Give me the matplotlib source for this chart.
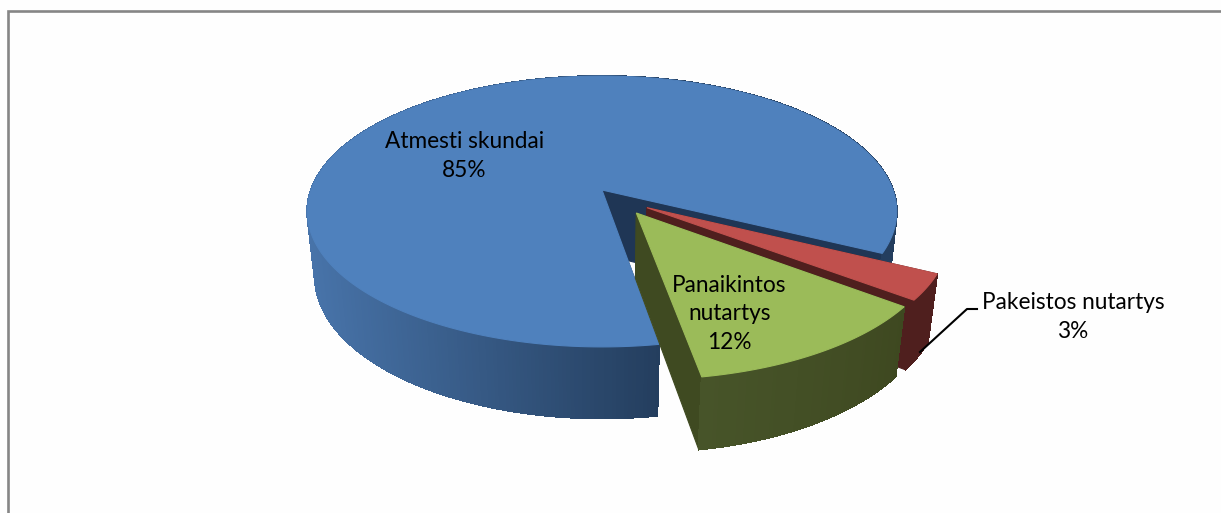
import numpy as np
import matplotlib
matplotlib.use("Agg")
import matplotlib.pyplot as plt
from matplotlib.colors import to_rgb

# ---- data ----
categories = ["Atmesti skundai", "Panaikintos\nnutartys", "Pakeistos nutartys"]
values = [85, 12, 3]
percent_labels = ["85%", "12%", "3%"]

# ---- drawing order round the pie, starting from the front and turning right ----
START_DEG = 9.5
order = [1, 2, 0]                 # green, red, blue
explode = {0: 0.0, 1: 0.205, 2: 0.2}
explode_dir_shift = {0: 0.0, 1: 3.0, 2: -9.0}

top_col = {0: "#4f81bd", 1: "#9bbb59", 2: "#c0504d"}
cut_col = {0: "#1f3655", 1: "#3f4a21", 2: "#4f1f1e"}
side_from = {0: "#4874aa", 1: "#475429", 2: "#4f1f1e"}
side_to = {0: "#243e5e", 1: "#3e4820", 2: "#4f1f1e"}

# ---- projection of the tilted disc onto the page ----
CX, CY = 602.0, 190.0
RX, SY = 291.0, 132.0
K = 0.1587
DEPTH, M = 66.0, 0.026


def project(u, v, z=0.0):
    w = 1 + K * v + M * z
    return CX + RX * u / w, CY + (-SY * v + DEPTH * z) / w


plt.rcParams["font.family"] = ["Lato", "DejaVu Sans"]
fig = plt.figure(figsize=(12.21, 5.13), dpi=100, facecolor="#fefefe")
ax = fig.add_axes([0, 0, 1, 1])
ax.set_xlim(0, 1221)
ax.set_ylim(513, 0)
ax.axis("off")

# picture frame
ax.plot([7.5, 7.5, 1221], [513, 11, 11], color="#868686", lw=1.9, solid_joinstyle="miter")

total = sum(values)
spans = {}
a = START_DEG
for i in order:
    sweep = 360.0 * values[i] / total
    spans[i] = (a, a + sweep)
    a += sweep


def offset(i):
    a0, a1 = spans[i]
    d = np.radians((a0 + a1) / 2 + explode_dir_shift[i])
    return explode[i] * np.sin(d), -explode[i] * np.cos(d)


def rim(i, a_deg):
    ou, ov = offset(i)
    r = np.radians(a_deg)
    return ou + np.sin(r), ov - np.cos(r)


def poly(points, colour, z, smooth=True):
    xs, ys = zip(*points)
    ax.fill(xs, ys, facecolor=colour, edgecolor=colour, lw=0.8, zorder=z, antialiased=smooth)


def draw_slice(i, base):
    a0, a1 = spans[i]
    ou, ov = offset(i)
    # cut faces
    for edge in (a0, a1):
        u, v = rim(i, edge)
        poly([project(ou, ov), project(u, v), project(u, v, 1), project(ou, ov, 1)],
             cut_col[i], base)
    # outer rim, strips from back to front
    angs = np.linspace(a0, a1, max(int((a1 - a0) * 1.5), 12) + 1)
    strips = list(zip(angs[:-1], angs[1:]))
    strips.sort(key=lambda s: -rim(i, (s[0] + s[1]) / 2)[1])
    c0, c1 = np.array(to_rgb(side_from[i])), np.array(to_rgb(side_to[i]))
    for s0, s1 in strips:
        ua, va = rim(i, s0)
        ub, vb = rim(i, s1)
        xm = project((ua + ub) / 2, (va + vb) / 2)[0]
        if i == 0:
            t = np.clip((xm - 306) / (658 - 306), 0, 1)
        else:
            t = (s0 - a0) / (a1 - a0)
        colour = tuple(c0 + (c1 - c0) * t)
        poly([project(ua, va), project(ub, vb), project(ub, vb, 1), project(ua, va, 1)],
             colour, base + 0.1, smooth=False)
    # top face
    pts = [project(ou, ov)] + [project(*rim(i, t)) for t in np.linspace(a0, a1, 400)]
    poly(pts, top_col[i], base + 0.2)


draw_slice(0, 2)   # blue lies behind
draw_slice(2, 3)   # then red
draw_slice(1, 4)   # green in front

# leader line of the small slice
ax.plot([920, 967, 977], [352, 309, 309], color="black", lw=1.5, zorder=6)

# labels
fs = 16.3
ls = 1.45
ax.text(464.5, 156, f"{categories[0]}\n{percent_labels[0]}", ha="center", va="center",
        fontsize=fs, color="black", linespacing=ls, zorder=7)
ax.text(729.5, 314, f"{categories[1]}\n{percent_labels[1]}", ha="center", va="center",
        fontsize=fs, color="black", linespacing=ls, zorder=7)
ax.text(1073, 317, f"{categories[2]}\n{percent_labels[2]}", ha="center", va="center",
        fontsize=fs, color="black", linespacing=ls, zorder=7)

fig.savefig("out.png", dpi=100, facecolor=fig.get_facecolor())
